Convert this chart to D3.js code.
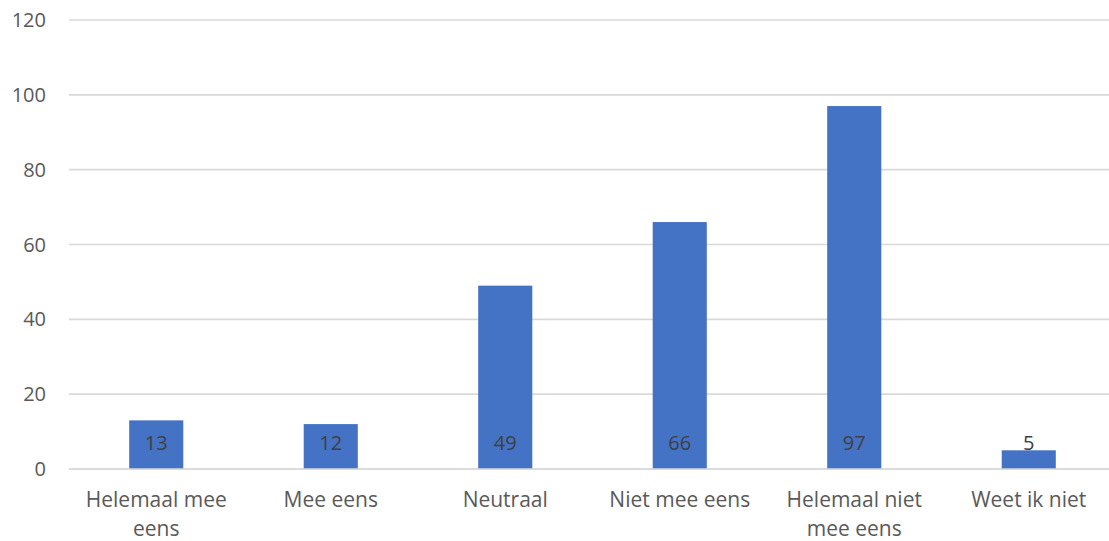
<!DOCTYPE html>
<html><head><meta charset="utf-8">
<script src="https://cdn.jsdelivr.net/npm/d3@7"></script>
<style>html,body{margin:0;padding:0;background:#fff;overflow:hidden}</style>
</head><body>
<svg id="c" width="1109" height="541"></svg>
<script>
const categories = [["Helemaal mee","eens"],["Mee eens"],["Neutraal"],["Niet mee eens"],["Helemaal niet","mee eens"],["Weet ik niet"]];
const values = [13, 12, 49, 66, 97, 5];
const yTicks = [0, 20, 40, 60, 80, 100, 120];

const svg = d3.select("#c");
const font = "'Open Sans', 'Liberation Sans', sans-serif";
const m = {left: 69, right: -7, top: 20, bottom: 72};
const W = 1109, H = 541;
const x = d3.scaleBand().domain(d3.range(values.length)).range([m.left, W - m.right]).paddingInner(0.69).paddingOuter(0.345);
const y = d3.scaleLinear().domain([0, 120]).range([469, 20]);

svg.append("g").selectAll("line").data(yTicks).join("line")
  .attr("x1", m.left).attr("x2", W - m.right)
  .attr("y1", d => y(d)).attr("y2", d => y(d))
  .attr("stroke", "#d9d9d9").attr("stroke-width", 1.6);

svg.append("g").selectAll("text").data(yTicks).join("text")
  .attr("x", 46).attr("y", d => y(d)).attr("dy", "0.35em")
  .attr("text-anchor", "end").attr("font-family", font).attr("font-size", 20)
  .attr("fill", "#595959").text(d => d);

svg.append("g").selectAll("rect").data(values).join("rect")
  .attr("x", (d, i) => x(i)).attr("width", x.bandwidth())
  .attr("y", d => y(d)).attr("height", d => y(0) - y(d))
  .attr("fill", "#4472c4");

svg.append("line").attr("x1", m.left).attr("x2", W - m.right)
  .attr("y1", y(0)).attr("y2", y(0)).attr("stroke", "#d9d9d9").attr("stroke-width", 1.6);

svg.append("g").selectAll("text").data(values).join("text")
  .attr("x", (d, i) => x(i) + x.bandwidth() / 2).attr("y", y(0) - 26).attr("dy", "0.35em")
  .attr("text-anchor", "middle").attr("font-family", font).attr("font-size", 20)
  .attr("fill", "#404040").text(d => d);

const cat = svg.append("g").selectAll("text").data(categories).join("text")
  .attr("x", (d, i) => x(i) + x.bandwidth() / 2).attr("y", 500)
  .attr("text-anchor", "middle").attr("font-family", font).attr("font-size", 21)
  .attr("fill", "#595959");
cat.selectAll("tspan").data(d => d).join("tspan")
  .attr("x", function() { return this.parentNode.getAttribute("x"); })
  .attr("dy", (d, j) => j === 0 ? "0.35em" : "29px")
  .text(d => d);
</script>
</body></html>
